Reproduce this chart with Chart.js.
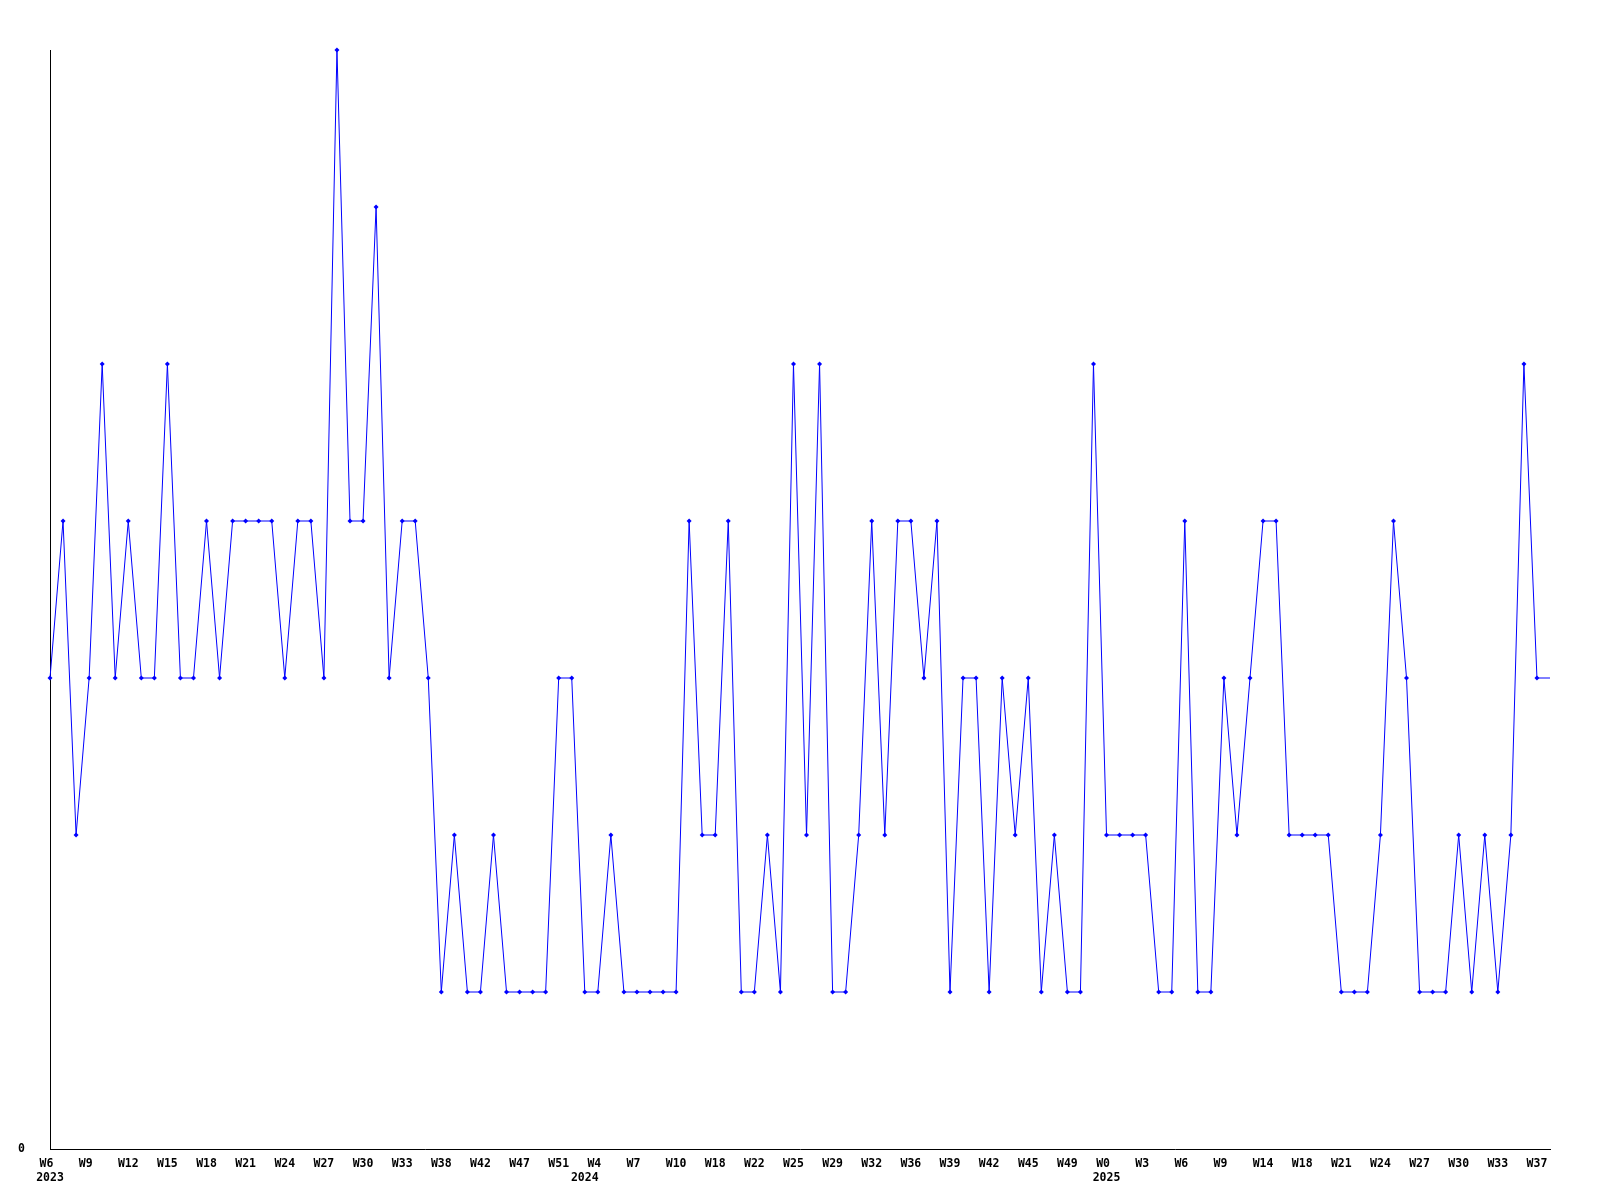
<!DOCTYPE html>
<html>
<head>
<meta charset="utf-8">
<script src="https://cdn.jsdelivr.net/npm/chart.js@4/dist/chart.umd.min.js"></script>
<style>
  html, body { margin: 0; padding: 0; background: #ffffff; }
  #c { display: block; }
</style>
</head>
<body>
<canvas id="c" width="1600" height="1200"></canvas>
<script>
// Week numbers of each data point
const weeks = [
  6,7,8,9,10,11,12,13,14,15,
  16,17,18,19,20,21,22,23,24,25,
  26,27,28,29,30,31,32,33,34,36,
  38,39,41,42,43,45,47,48,50,51,
  52,2,4,5,6,7,8,9,10,13,
  15,18,19,20,22,23,24,25,26,27,
  29,30,31,32,34,35,36,37,38,39,
  40,41,42,43,44,45,47,48,49,50,
  51,0,1,2,3,4,5,6,7,8,
  9,11,13,14,16,17,18,19,20,21,
  22,23,24,25,26,27,28,29,30,31,
  32,33,35,36,37,38
];
// Year of each data point
const years = [
  2023,2023,2023,2023,2023,2023,2023,2023,2023,2023,
  2023,2023,2023,2023,2023,2023,2023,2023,2023,2023,
  2023,2023,2023,2023,2023,2023,2023,2023,2023,2023,
  2023,2023,2023,2023,2023,2023,2023,2023,2023,2023,
  2023,2024,2024,2024,2024,2024,2024,2024,2024,2024,
  2024,2024,2024,2024,2024,2024,2024,2024,2024,2024,
  2024,2024,2024,2024,2024,2024,2024,2024,2024,2024,
  2024,2024,2024,2024,2024,2024,2024,2024,2024,2024,
  2024,2025,2025,2025,2025,2025,2025,2025,2025,2025,
  2025,2025,2025,2025,2025,2025,2025,2025,2025,2025,
  2025,2025,2025,2025,2025,2025,2025,2025,2025,2025,
  2025,2025,2025,2025,2025,2025
];
// Series values
const values = [
  3,4,2,3,5,3,4,3,3,5,
  3,3,4,3,4,4,4,4,3,4,
  4,3,7,4,4,6,3,4,4,3,
  1,2,1,1,2,1,1,1,1,3,
  3,1,1,2,1,1,1,1,1,4,
  2,2,4,1,1,2,1,5,2,5,
  1,1,2,4,2,4,4,3,4,1,
  3,3,1,3,2,3,1,2,1,1,
  5,2,2,2,2,1,1,4,1,1,
  3,2,3,4,4,2,2,2,2,1,
  1,1,2,4,3,1,1,1,2,1,
  2,1,2,5,3,3
];
const labelEvery = 3;
const yMin = 0;
const yMax = 7;

// category labels: week text on every 3rd point, year on first point of each year
const labels = weeks.map((w, i) => {
  const wk = i % labelEvery === 0 ? ('W' + w).padEnd(3, ' ') : '';
  const newYear = i === 0 || years[i] !== years[i - 1];
  if (newYear) return [wk, String(years[i])];
  return wk;
});

const FONT = { family: '"DejaVu Sans Mono", "Liberation Mono", monospace', size: 11.5, weight: 'bold', lineHeight: 14 / 11.5 };
const lastIndex = values.length - 1;

new Chart(document.getElementById('c'), {
  type: 'line',
  data: {
    labels: labels,
    datasets: [{
      data: values,
      borderColor: '#0000ff',
      backgroundColor: '#0000ff',
      borderWidth: 1,
      pointStyle: 'rectRot',
      pointRadius: ctx => (ctx.dataIndex === lastIndex ? 0 : 2.5),
      pointBorderWidth: 0,
      pointBackgroundColor: '#0000ff',
      tension: 0,
      fill: false,
      clip: false
    }]
  },
  options: {
    responsive: false,
    animation: false,
    events: [],
    layout: { padding: { top: 50, right: 50, left: 0, bottom: 0 } },
    plugins: {
      legend: { display: false },
      tooltip: { enabled: false },
      title: { display: false }
    },
    scales: {
      x: {
        type: 'category',
        offset: false,
        grid: { display: false, drawTicks: false },
        border: { display: true, color: '#000000', width: 1 },
        ticks: {
          autoSkip: false,
          maxRotation: 0,
          minRotation: 0,
          padding: 8,
          color: '#000000',
          font: FONT,
          callback: function (value) {
            return this.getLabelForValue(value);
          }
        },
        afterFit: s => { s.height = 51; }
      },
      y: {
        min: yMin,
        max: yMax,
        grid: { display: false, drawTicks: false },
        border: { display: true, color: '#000000', width: 1 },
        ticks: {
          stepSize: 1,
          padding: 25,
          color: '#000000',
          font: FONT,
          callback: v => (v === 0 ? '0' : '')
        },
        afterFit: s => { s.width = 50; }
      }
    }
  }
});
</script>
</body>
</html>
